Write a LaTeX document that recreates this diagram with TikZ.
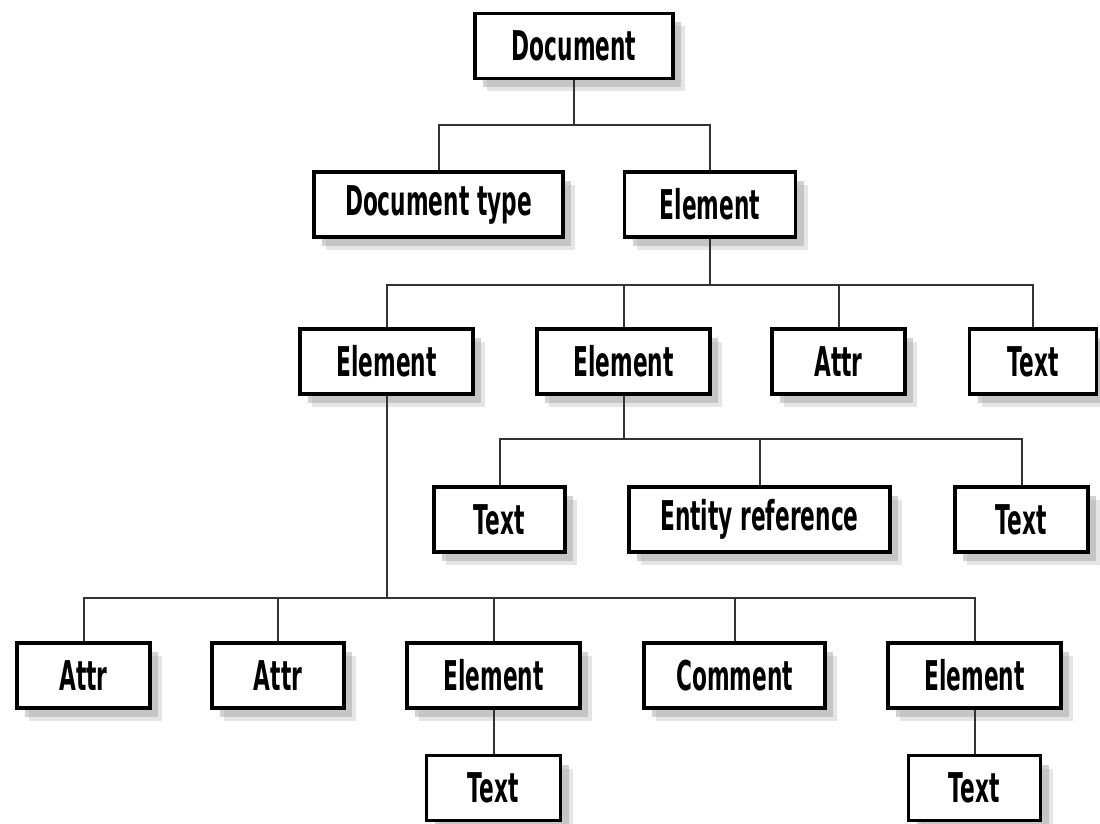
\documentclass[tikz,border=0pt]{standalone}
\usepackage{fontspec}
\setmainfont{DejaVu Sans}[FakeStretch=0.53]
\usepackage{tikz}
\usetikzlibrary{shadows}

\begin{document}
\begin{tikzpicture}
    [
      x = 1pt, y = -1pt,
      box/.style = {draw, line width=3.5pt, fill=white, inner sep=0pt,
                    minimum height=65pt, font=\fontsize{41}{45}\selectfont\bfseries,
                    drop shadow={shadow xshift=12pt, shadow yshift=-13pt,
                                 fill=black!20, opacity=0.5},
                    drop shadow={shadow xshift=8pt, shadow yshift=-9pt,
                                 fill=black!35, opacity=0.5}},
      link/.style = {draw=black!80, line width=2pt},
    ]
    \useasboundingbox (0,0) rectangle (1100,824);

    \node[box, minimum width=198pt] (doc)     at (574,46)     {Document};

    \node[box, minimum width=249pt] (doctype) at (438.5,204.5) {Document type};
    \node[box, minimum width=171pt] (elemA)   at (710,204.5)   {Element};

    \node[box, minimum width=173pt] (elemB)   at (386.5,361.5) {Element};
    \node[box, minimum width=173pt] (elemC)   at (623.5,361.5) {Element};
    \node[box, minimum width=133pt] (attrA)   at (838.5,361.5) {Attr};
    \node[box, minimum width=127pt] (textA)   at (1033,361.5)  {Text};

    \node[box, minimum width=131pt] (textB)   at (499.5,519.5) {Text};
    \node[box, minimum width=261pt] (entref)  at (759.5,519.5) {Entity reference};
    \node[box, minimum width=133pt] (textC)   at (1021.5,519.5) {Text};

    \node[box, minimum width=133pt] (attrB)   at (83.5,675.5)  {Attr};
    \node[box, minimum width=132pt] (attrC)   at (278,675.5)   {Attr};
    \node[box, minimum width=173pt] (elemD)   at (493.5,675.5) {Element};
    \node[box, minimum width=181pt] (comment) at (734.5,675.5) {Comment};
    \node[box, minimum width=173pt] (elemE)   at (974.5,675.5) {Element};

    \node[box, minimum width=134pt] (textD)   at (493.5,788)   {Text};
    \node[box, minimum width=132pt] (textE)   at (974.5,788)   {Text};

    \coordinate (busdoc)   at (574,125);
    \coordinate (buselemA) at (710,285);
    \coordinate (buselemC) at (623.5,439);
    \coordinate (buselemB) at (386.5,598);

    \draw[link] (doc.south) -- (busdoc);
    \foreach \c in {doctype, elemA}
      \draw[link] (busdoc) -| (\c.north);

    \draw[link] (elemA.south) -- (buselemA);
    \foreach \c in {elemB, elemC, attrA, textA}
      \draw[link] (buselemA) -| (\c.north);

    \draw[link] (elemC.south) -- (buselemC);
    \foreach \c in {textB, entref, textC}
      \draw[link] (buselemC) -| (\c.north);

    \draw[link] (elemB.south) -- (buselemB);
    \foreach \c in {attrB, attrC, elemD, comment, elemE}
      \draw[link] (buselemB) -| (\c.north);

    \draw[link] (elemD.south) -- (textD.north);
    \draw[link] (elemE.south) -- (textE.north);
\end{tikzpicture}
\end{document}
